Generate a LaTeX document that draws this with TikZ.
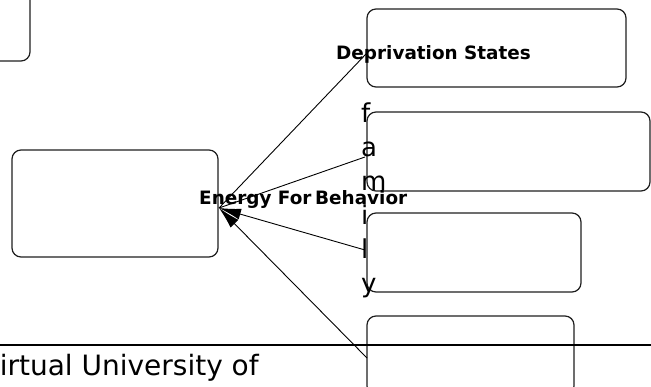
\documentclass[tikz,border=0pt]{standalone}
\usepackage{fontspec}
\setmainfont{DejaVu Sans}
\usetikzlibrary{arrows.meta}
\definecolor{edgegray}{HTML}{1E1E1E}
\begin{document}
\begin{tikzpicture}[x=1pt,y=-1pt,
  roundbox/.style={draw=edgegray,line width=1.2pt,rounded corners=9pt,inner sep=0pt,minimum width=#1},
  roundbox/.default=100pt,
  boldlabel/.style={font=\fontsize{18.4}{21}\selectfont\bfseries,inner sep=0pt,anchor=base west},
  link/.style={draw=black,line width=0.9pt,-{Latex[length=22pt,width=11pt]}},
  plainlink/.style={draw=black,line width=0.9pt}
]
\useasboundingbox (0,0) rectangle (651,387);
% boxes
\node[roundbox=130pt,minimum height=121pt] (tl) at (-35,0.5) {};
\node[roundbox=206pt,minimum height=107pt] (lb) at (115,203.5) {};
\node[roundbox=259pt,minimum height=78pt] (dep) at (496.5,48) {};
\node[roundbox=283pt,minimum height=79pt] (b2) at (508.5,151.5) {};
\node[roundbox=214pt,minimum height=79pt] (b3) at (474,252.5) {};
\node[roundbox=207pt,minimum height=79pt] (b4) at (470.5,355.5) {};
% rule
\coordinate (ruleL) at (0,345);
\coordinate (ruleR) at (651,345);
\draw[line width=2.2pt] (ruleL) -- (ruleR);
% connector ends
\coordinate (tip) at (219,208);
\coordinate (e1) at (366,54);
\coordinate (e2) at (365,157);
\coordinate (e3) at (365,250);
\coordinate (e4) at (367,358);
\draw[plainlink] (e1) -- (tip);
\draw[plainlink] (e2) -- (tip);
\draw[link] (e3) -- (tip);
\draw[link] (e4) -- (tip);
% texts
\node[boldlabel] (deptext) at (336,60) {Deprivation States};
\node[boldlabel] (energy) at (199,205) {Energy For};
\node[boldlabel] (behav) at (315,205) {Behavior};
\node[font=\fontsize{26}{34}\selectfont,align=left,inner sep=0pt,anchor=base west] (fam) at (361,293) {f\\a\\m\\i\\l\\y};
\node[font=\fontsize{28}{32}\selectfont,inner sep=0pt,anchor=base west] (vu) at (-19,376) {Virtual University of};
\end{tikzpicture}
\end{document}
